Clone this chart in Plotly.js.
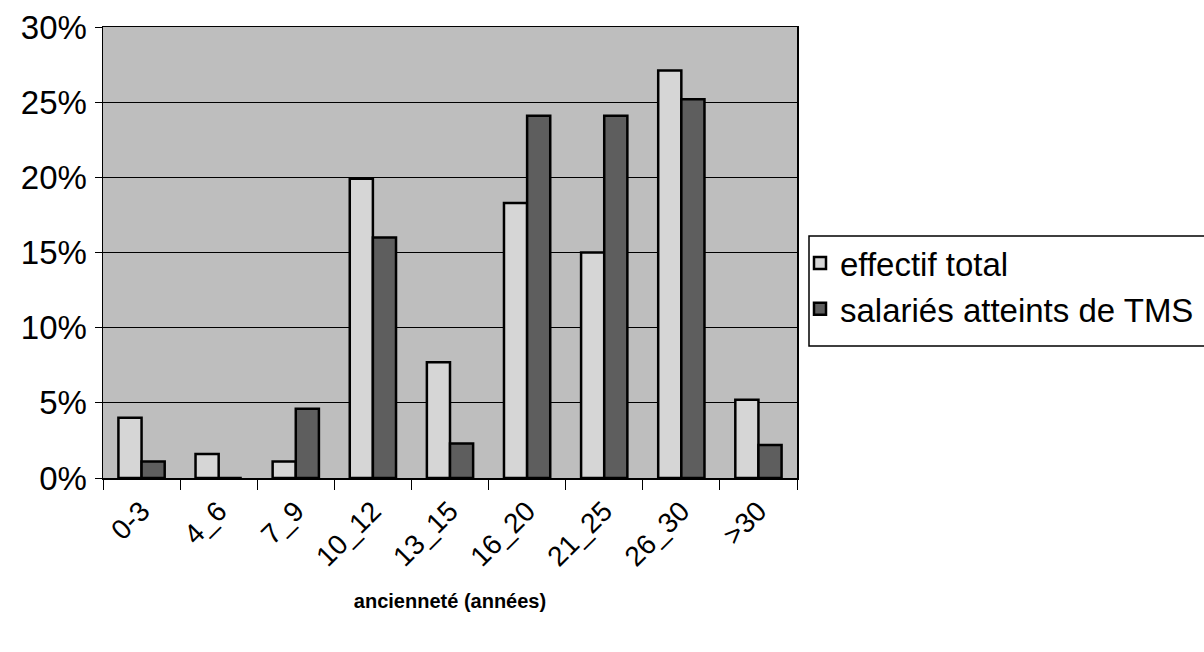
<!DOCTYPE html>
<html>
<head>
<meta charset="utf-8">
<script src="https://cdn.plot.ly/plotly-3.0.1.min.js"></script>
<style>html,body{margin:0;padding:0;background:#fff;}#chart{width:1204px;height:652px;}</style>
</head>
<body>
<div id="chart"></div>
<script>
const categories = ["0-3", "4_6", "7_9", "10_12", "13_15", "16_20", "21_25", "26_30", ">30"];
const effectifTotal = [0.040, 0.016, 0.011, 0.199, 0.077, 0.183, 0.150, 0.271, 0.052];
const salariesTMS = [0.011, 0, 0.046, 0.160, 0.023, 0.241, 0.241, 0.252, 0.022];
const seriesNames = ["effectif total", "salariés atteints de TMS"];
const yTicks = [0, 0.05, 0.10, 0.15, 0.20, 0.25, 0.30];
const yTickLabels = ["0%", "5%", "10%", "15%", "20%", "25%", "30%"];

const font = "Liberation Sans, Arial, sans-serif";

const traces = [
  {type: "bar", x: categories, y: effectifTotal, name: seriesNames[0],
   marker: {color: "#d6d6d6", line: {color: "#000", width: 2.5}}},
  {type: "bar", x: categories, y: salariesTMS, name: seriesNames[1],
   marker: {color: "#5e5e5e", line: {color: "#000", width: 2.5}}}
];

const layout = {
  width: 1204, height: 652,
  margin: {l: 103, r: 407, t: 27, b: 174, autoexpand: false},
  paper_bgcolor: "#ffffff",
  plot_bgcolor: "#bebebe",
  barmode: "group",
  bargap: 0.4,
  bargroupgap: 0,
  font: {family: font, color: "#000", size: 24},
  xaxis: {
    type: "category",
    tickangle: -45,
    ticks: "outside", tickson: "boundaries", ticklen: 10, tickcolor: "#000",
    showline: true, linecolor: "#000", linewidth: 1.5, mirror: true,
    tickfont: {size: 28, family: font},
    ticklabelstandoff: 4,
    automargin: false,
    title: {text: "<b>ancienneté (années)</b>", font: {size: 20, family: font}, standoff: 22}
  },
  yaxis: {
    range: [0, 0.30],
    tickvals: yTicks, ticktext: yTickLabels,
    ticks: "outside", ticklen: 7, tickcolor: "#000",
    showgrid: true, gridcolor: "#000", gridwidth: 1,
    showline: true, linecolor: "#000", linewidth: 1.5, mirror: true,
    zeroline: false,
    tickfont: {size: 33, family: font},
    ticklabelstandoff: 1,
    automargin: false
  },
  legend: {
    x: (800 - 103) / 694, y: (478 - 235) / 451, xanchor: "left", yanchor: "top",
    borderwidth: 0, bgcolor: "rgba(0,0,0,0)",
    font: {size: 33, family: font},
    itemwidth: 30, tracegroupgap: 0
  },
  shapes: [{
    type: "rect", xref: "paper", yref: "paper",
    x0: (809 - 103) / 694, x1: (1215 - 103) / 694,
    y0: (478 - 346) / 451, y1: (478 - 236) / 451,
    line: {color: "#000", width: 1.5}, fillcolor: "rgba(0,0,0,0)"
  }],
  showlegend: true
};

Plotly.newPlot("chart", traces, layout, {displayModeBar: false, staticPlot: true});
</script>
</body>
</html>
